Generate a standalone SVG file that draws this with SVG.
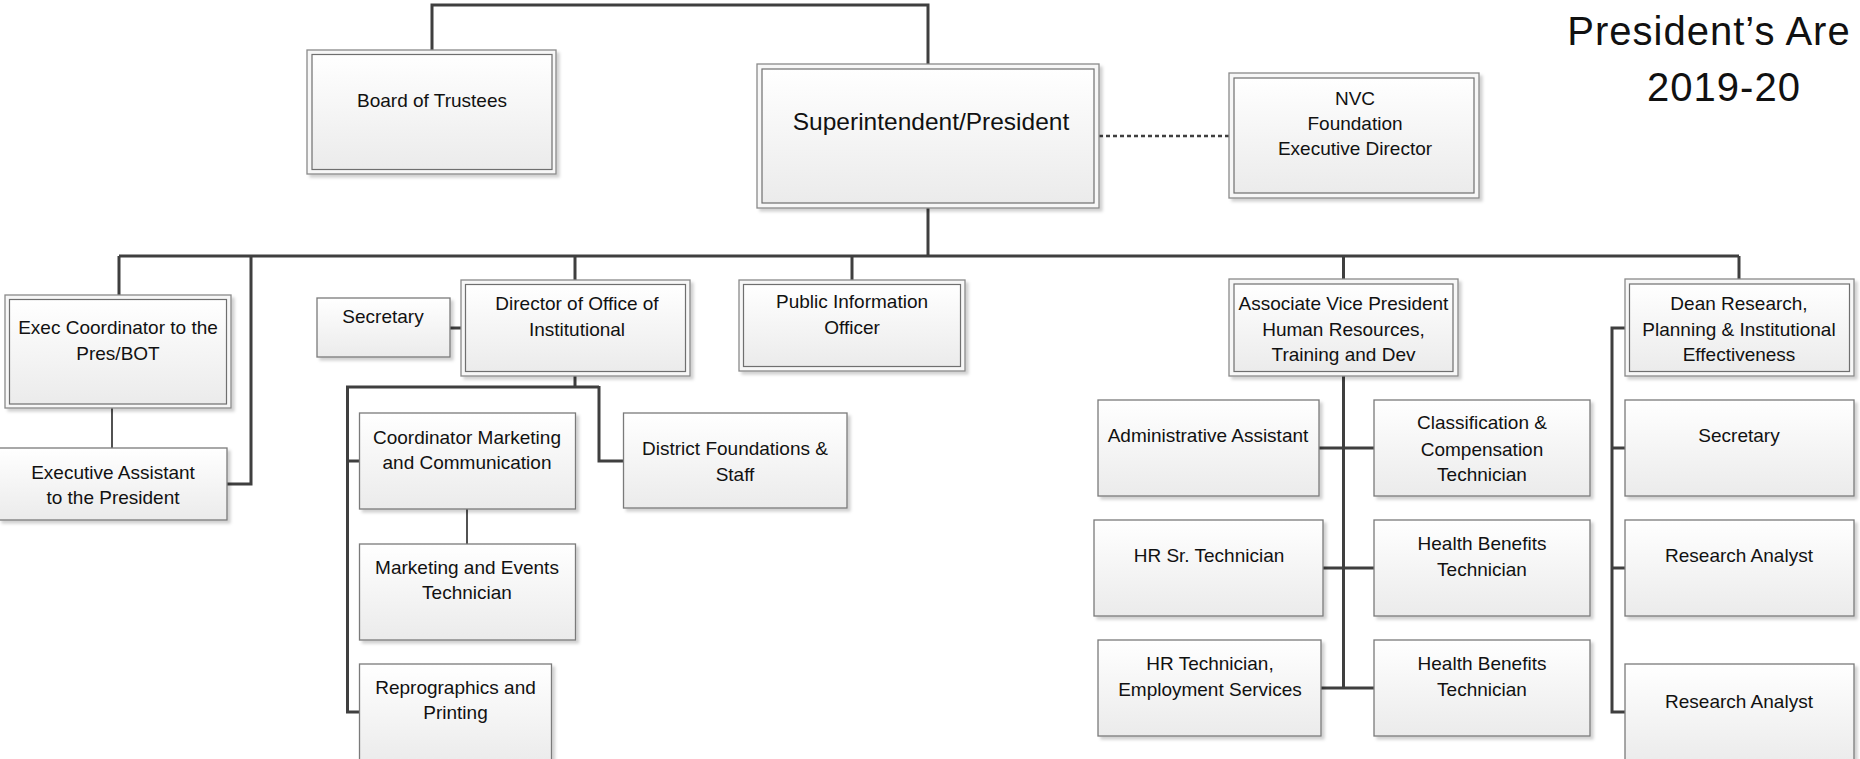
<svg xmlns="http://www.w3.org/2000/svg" width="1860" height="759" viewBox="0 0 1860 759">
<defs>
<linearGradient id="g" x1="0" y1="0" x2="0" y2="1">
<stop offset="0" stop-color="#ffffff"/>
<stop offset="1" stop-color="#ebebeb"/>
</linearGradient>
<filter id="sh" x="-5%" y="-5%" width="115%" height="120%">
<feDropShadow dx="3" dy="3" stdDeviation="1.5" flood-color="#000" flood-opacity="0.18"/>
</filter>
<style>
.box{fill:url(#g);stroke:#7a7a7a;stroke-width:1.3;filter:url(#sh)}
.outer{fill:#f7f7f7;stroke:#8a8a8a;stroke-width:1.3;filter:url(#sh)}
.inner{fill:url(#g);stroke:#6f6f6f;stroke-width:1.2}
text{font-family:"Liberation Sans",Arial,sans-serif;font-size:19px;fill:#111;text-anchor:middle}
.big{font-size:24.5px}
.title{font-size:40px;letter-spacing:1px}
.c{fill:none;stroke:#3f3f3f;stroke-width:3}
.thin{stroke-width:1.8}
.dash{fill:none;stroke:#3f3f3f;stroke-width:2.5;stroke-dasharray:4 3}
</style>
</defs>
<rect width="1860" height="759" fill="#fff"/>

<g id="connectors">
<path class="c" d="M432 50V5H928V64"/>
<path class="c" d="M928 208V256"/>
<path class="c" d="M119 256H1739"/>
<path class="c" d="M119 256V295"/>
<path class="c" d="M251 256V484H227"/>
<path class="c" d="M575 256V280"/>
<path class="c" d="M852 256V280"/>
<path class="c" d="M1343.5 256V279"/>
<path class="c" d="M1739 256V279"/>
<path class="c thin" d="M112 408V448"/>
<path class="c" d="M450 328H461"/>
<path class="c" d="M575 376V387"/>
<path class="c" d="M599 387H347.5V712H359.5"/>
<path class="c" d="M347.5 461H359.5"/>
<path class="c" d="M599 386V461H623.5"/>
<path class="c thin" d="M467 509V544"/>
<path class="c" d="M1343.5 376V688"/>
<path class="c" d="M1319 448H1374"/>
<path class="c" d="M1323 568H1374"/>
<path class="c" d="M1321 688H1374"/>
<path class="c" d="M1625 328H1612V712H1625"/>
<path class="c" d="M1612 448H1625"/>
<path class="c" d="M1612 568H1625"/>
<path class="dash" d="M1099 136H1229"/>
</g>

<g id="title">
<text class="title" x="1709" y="45">President’s Are</text>
<text class="title" x="1724" y="101">2019-20</text>
</g>

<g id="board">
<rect class="outer" x="307" y="50" width="249" height="124"/>
<rect class="inner" x="312" y="54.5" width="240" height="115"/>
<text x="432" y="107">Board of Trustees</text>
</g>

<g id="superintendent">
<rect class="outer" x="757" y="64" width="342" height="144"/>
<rect class="inner" x="762" y="69" width="332" height="134"/>
<text class="big" x="931" y="130">Superintendent/President</text>
</g>

<g id="nvc">
<rect class="outer" x="1229" y="73" width="250" height="125"/>
<rect class="inner" x="1234" y="78" width="240" height="115"/>
<text x="1355" y="105">NVC</text>
<text x="1355" y="130">Foundation</text>
<text x="1355" y="155">Executive Director</text>
</g>

<g id="exec-coordinator">
<rect class="outer" x="5" y="295" width="226" height="113"/>
<rect class="inner" x="9.5" y="299.5" width="217" height="104.5"/>
<text x="118" y="334">Exec Coordinator to the</text>
<text x="118" y="360">Pres/BOT</text>
</g>

<g id="exec-assistant">
<rect class="box" x="-1" y="448" width="228" height="72"/>
<text x="113" y="479">Executive Assistant</text>
<text x="113" y="504">to the President</text>
</g>

<g id="secretary-director">
<rect class="box" x="317" y="298" width="133" height="59"/>
<text x="383" y="323">Secretary</text>
</g>

<g id="director">
<rect class="outer" x="461" y="280" width="229" height="96"/>
<rect class="inner" x="465.5" y="284.5" width="220" height="87"/>
<text x="577" y="310">Director of Office of</text>
<text x="577" y="336">Institutional</text>
</g>

<g id="public-information">
<rect class="outer" x="739" y="280" width="226" height="91"/>
<rect class="inner" x="743.5" y="284.5" width="217" height="82"/>
<text x="852" y="308">Public Information</text>
<text x="852" y="334">Officer</text>
</g>

<g id="coordinator-marketing">
<rect class="box" x="359.5" y="413" width="216" height="96"/>
<text x="467" y="444">Coordinator Marketing</text>
<text x="467" y="469">and Communication</text>
</g>

<g id="marketing-events">
<rect class="box" x="359.5" y="544" width="216" height="96"/>
<text x="467" y="574">Marketing and Events</text>
<text x="467" y="599">Technician</text>
</g>

<g id="reprographics">
<rect class="box" x="359.5" y="664" width="192" height="100"/>
<text x="455.5" y="694">Reprographics and</text>
<text x="455.5" y="719">Printing</text>
</g>

<g id="district-foundations">
<rect class="box" x="623.5" y="413" width="223.5" height="95"/>
<text x="735" y="455">District Foundations &amp;</text>
<text x="735" y="481">Staff</text>
</g>

<g id="avp-hr">
<rect class="outer" x="1229" y="279" width="229" height="97"/>
<rect class="inner" x="1234" y="284" width="219" height="87.5"/>
<text x="1343.5" y="310">Associate Vice President</text>
<text x="1343.5" y="335.5">Human Resources,</text>
<text x="1343.5" y="360.5">Training and Dev</text>
</g>

<g id="admin-assistant">
<rect class="box" x="1098" y="400" width="221" height="96"/>
<text x="1208" y="442">Administrative Assistant</text>
</g>

<g id="classification">
<rect class="box" x="1374" y="400" width="216" height="96"/>
<text x="1482" y="429">Classification &amp;</text>
<text x="1482" y="455.5">Compensation</text>
<text x="1482" y="481">Technician</text>
</g>

<g id="hr-sr-technician">
<rect class="box" x="1094" y="520" width="229" height="96"/>
<text x="1209" y="562">HR Sr. Technician</text>
</g>

<g id="health-benefits-1">
<rect class="box" x="1374" y="520" width="216" height="96"/>
<text x="1482" y="550">Health Benefits</text>
<text x="1482" y="575.5">Technician</text>
</g>

<g id="hr-technician">
<rect class="box" x="1098" y="640" width="223" height="96"/>
<text x="1210" y="670">HR Technician,</text>
<text x="1210" y="695.5">Employment Services</text>
</g>

<g id="health-benefits-2">
<rect class="box" x="1374" y="640" width="216" height="96"/>
<text x="1482" y="670">Health Benefits</text>
<text x="1482" y="695.5">Technician</text>
</g>

<g id="dean-research">
<rect class="outer" x="1625" y="279" width="229" height="97"/>
<rect class="inner" x="1629.5" y="284" width="220" height="87.5"/>
<text x="1739" y="310">Dean Research,</text>
<text x="1739" y="335.5">Planning &amp; Institutional</text>
<text x="1739" y="360.5">Effectiveness</text>
</g>

<g id="secretary-research">
<rect class="box" x="1625" y="400" width="229" height="96"/>
<text x="1739" y="442">Secretary</text>
</g>

<g id="research-analyst-1">
<rect class="box" x="1625" y="520" width="229" height="96"/>
<text x="1739" y="562">Research Analyst</text>
</g>

<g id="research-analyst-2">
<rect class="box" x="1625" y="664" width="229" height="100"/>
<text x="1739" y="708">Research Analyst</text>
</g>
</svg>
